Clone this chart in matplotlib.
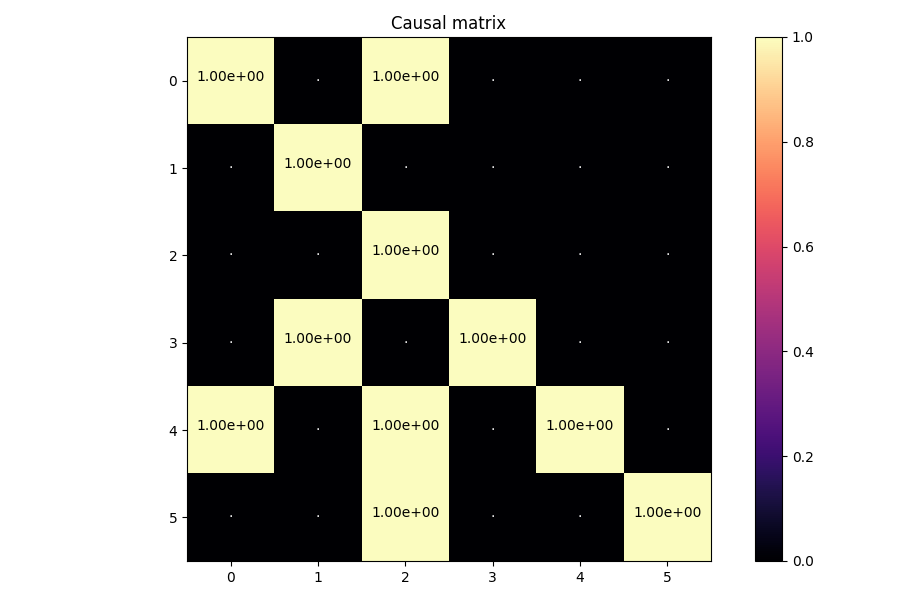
import numpy as np
import matplotlib
matplotlib.use('Agg')
import matplotlib.pyplot as plt

# causal matrix values (rows = effect index, cols = cause index)
row_0 = [1, 0, 1, 0, 0, 0]
row_1 = [0, 1, 0, 0, 0, 0]
row_2 = [0, 0, 1, 0, 0, 0]
row_3 = [0, 1, 0, 1, 0, 0]
row_4 = [1, 0, 1, 0, 1, 0]
row_5 = [0, 0, 1, 0, 0, 1]
labels = [0, 1, 2, 3, 4, 5]

matrix = np.array([row_0, row_1, row_2, row_3, row_4, row_5], dtype=float)

fig = plt.figure(figsize=(9, 6), dpi=100)
ax = fig.add_axes([187 / 900, 39 / 600, 524 / 900, 524 / 600])
cax = fig.add_axes([755 / 900, 39 / 600, 27 / 900, 524 / 600])
im = ax.imshow(matrix, cmap='magma', vmin=0, vmax=1, aspect='auto')
fig.colorbar(im, cax=cax)

# annotate: value on bright cells, a white dot on dark ones
for i in range(matrix.shape[0]):
    for j in range(matrix.shape[1]):
        if matrix[i, j] > 0.5:
            ax.text(j, i, '%.2e' % matrix[i, j], ha='center', color='black')
        else:
            ax.text(j, i, '.', ha='center', color='white')

ax.set_xticks(range(len(labels)))
ax.set_xticklabels(labels)
ax.set_yticks(range(len(labels)))
ax.set_yticklabels(labels)
ax.set_title('Causal matrix')

plt.savefig('out.png')
